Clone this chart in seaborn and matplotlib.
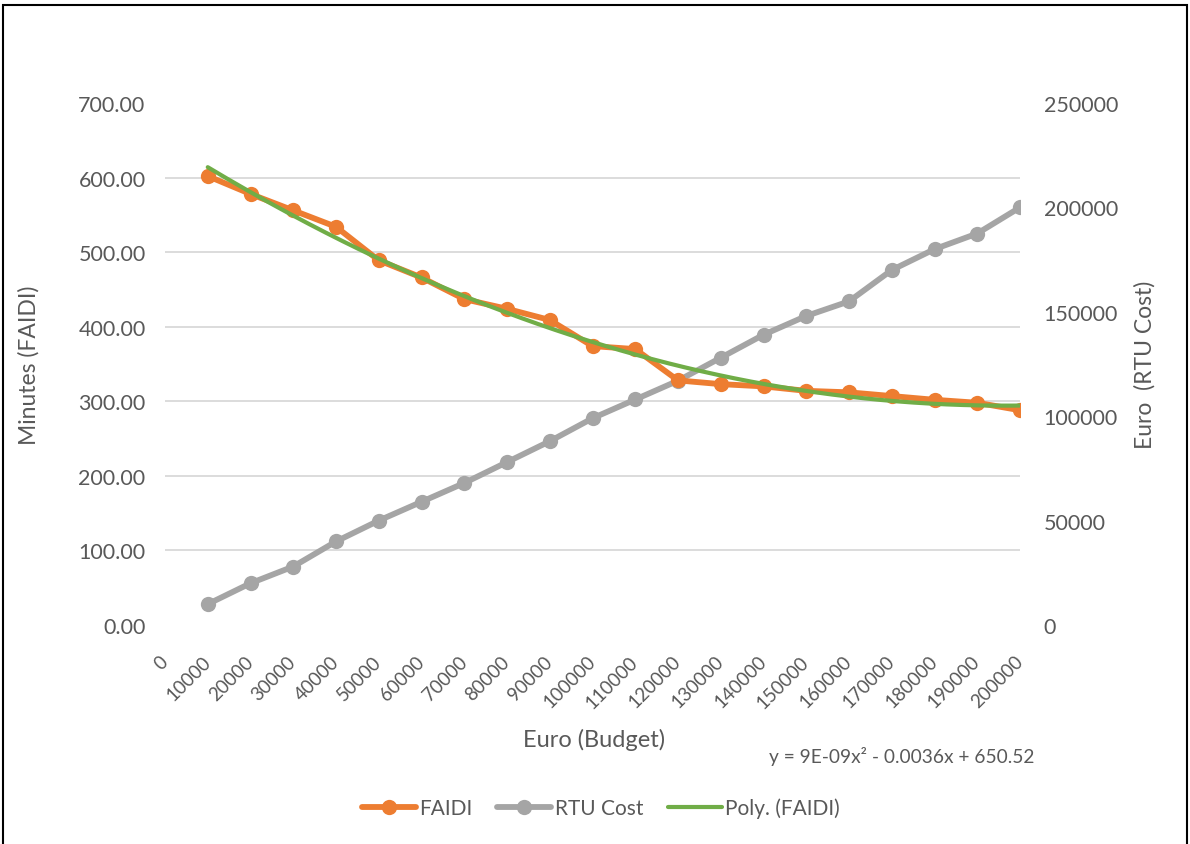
import numpy as np
import pandas as pd
import matplotlib.pyplot as plt
import matplotlib.patches as mpatches
import seaborn as sns

# budget steps (Euro)
budget = [10000, 20000, 30000, 40000, 50000, 60000, 70000, 80000, 90000, 100000,
          110000, 120000, 130000, 140000, 150000, 160000, 170000, 180000, 190000, 200000]
# minutes (FAIDI), left axis
faidi = [602, 578, 556, 534, 489, 466, 437, 424, 409, 374,
         370, 328, 323, 320, 314, 312, 307, 302, 298, 288]
# RTU cost (Euro), right axis
rtu_cost = [10000, 20000, 28000, 40000, 50000, 59000, 68000, 78000, 88000, 99000,
            108000, 117000, 128000, 139000, 148000, 155000, 170000, 180000, 187500, 200000]
equation = "y = 9E-09x² - 0.0036x + 650.52"

df = pd.DataFrame({"budget": budget, "faidi": faidi, "rtu": rtu_cost})

ORANGE = "#ED7D31"
GREY = "#A5A5A5"
GREEN = "#70AD47"
TXT = "#595959"

sns.set_style("white")
plt.rcParams["font.family"] = ["Lato", "DejaVu Sans"]
plt.rcParams["text.color"] = TXT
plt.rcParams["axes.labelcolor"] = TXT
plt.rcParams["xtick.color"] = TXT
plt.rcParams["ytick.color"] = TXT

fig = plt.figure(figsize=(11.9, 8.45), dpi=100)
ax = fig.add_axes([165 / 1190, 1 - 626 / 845, 855 / 1190, 522 / 845])
ax2 = ax.twinx()
ax.set_zorder(ax2.get_zorder() + 1)
ax.patch.set_visible(False)

# RTU cost on the right axis (drawn behind)
sns.lineplot(data=df, x="budget", y="rtu", ax=ax2, color=GREY, linewidth=4.2,
             marker="o", markersize=11, markeredgewidth=0, label="RTU Cost", legend=False)

# FAIDI on the left axis
sns.lineplot(data=df, x="budget", y="faidi", ax=ax, color=ORANGE, linewidth=4.2,
             marker="o", markersize=11, markeredgewidth=0, label="FAIDI", legend=False)

# 2nd order polynomial trend line of FAIDI
coef = np.polyfit(df["budget"], df["faidi"], 2)
xs = np.linspace(min(budget), max(budget), 200)
trend = pd.DataFrame({"x": xs, "y": np.polyval(coef, xs)})
sns.lineplot(data=trend, x="x", y="y", ax=ax, color=GREEN, linewidth=3,
             label="Poly. (FAIDI)", legend=False)

ax.set_xlim(0, 200000)
ax.set_ylim(0, 700)
ax2.set_ylim(0, 250000)

ax.set_xticks(np.arange(0, 200001, 10000))
ax.set_xticklabels([str(v) for v in range(0, 200001, 10000)], rotation=45,
                   ha="right", va="center", rotation_mode="anchor")
ax.set_yticks(np.arange(0, 701, 100))
ax.set_yticklabels([f"{v:.2f}" for v in range(0, 701, 100)])
ax2.set_yticks(np.arange(0, 250001, 50000))
ax2.set_yticklabels([str(v) for v in range(0, 250001, 50000)])

# gridlines follow the left axis, but live on the back axis so the grey line covers them
ax2.set_yticks(np.linspace(0, 250000, 8), minor=True)
ax2.grid(False, which="major")
ax2.grid(True, which="minor", color="#D9D9D9", linewidth=1.3)
ax.grid(False)

ax.tick_params(axis="x", length=0, pad=24, labelsize=13.5)
ax.tick_params(axis="y", length=0, pad=14, labelsize=15.5)
ax2.tick_params(axis="y", which="both", length=0, pad=17, labelsize=15.5)

for a in (ax, ax2):
    for s in a.spines.values():
        s.set_visible(False)

ax.set_xlabel("Euro (Budget)", fontsize=17)
ax.xaxis.set_label_coords(0.502, -0.197)
ax.set_ylabel("Minutes (FAIDI)", fontsize=16.5)
ax.yaxis.set_label_coords(-0.147, 0.5)
ax2.set_ylabel("Euro  (RTU Cost)", fontsize=16.5)
ax2.yaxis.set_label_coords(1.133, 0.5)

fig.text(902 / 1190, 1 - 757 / 845, equation, fontsize=13.8, ha="center", va="center")

h1, l1 = ax.get_legend_handles_labels()
h2, l2 = ax2.get_legend_handles_labels()
handles = [h1[0], h2[0], h1[1]]
labels = [l1[0], l2[0], l1[1]]
fig.legend(handles, labels, loc="center", bbox_to_anchor=(0.505, 1 - 809 / 845), ncol=3,
           frameon=False, fontsize=15, handlelength=2.6, handletextpad=0.15,
           columnspacing=1.2)

# chart border
fig.patches.append(mpatches.Rectangle((3 / 1190, -0.01), 1184 / 1190, 1 - 6 / 845 + 0.01,
                                      transform=fig.transFigure, fill=False,
                                      edgecolor="black", linewidth=1.5))

plt.savefig("out.png", dpi=100)
